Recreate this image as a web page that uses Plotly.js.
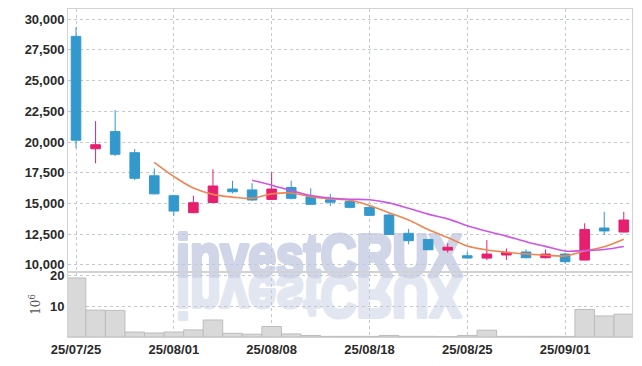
<!DOCTYPE html>
<html><head><meta charset="utf-8">
<script src="https://cdn.plot.ly/plotly-3.0.1.min.js"></script>
<style>html,body{margin:0;padding:0;background:#fff}#chart{width:642px;height:366px}</style>
</head><body><div id="chart"></div>
<script>
const dates = ['2025-07-25','2025-07-28','2025-07-29','2025-07-30','2025-07-31','2025-08-01',
  '2025-08-04','2025-08-05','2025-08-06','2025-08-07','2025-08-08','2025-08-11','2025-08-12',
  '2025-08-13','2025-08-14','2025-08-18','2025-08-19','2025-08-20','2025-08-21','2025-08-22',
  '2025-08-25','2025-08-26','2025-08-27','2025-08-28','2025-08-29','2025-09-01','2025-09-02',
  '2025-09-03','2025-09-04'];
const openP  = [28600,19450,20850,19130,17250,15630,14250,15080,16170,16100,15330,16300,15550,15300,15170,14680,14060,12570,12070,11200,10740,10550,10800,11050,10580,10880,10390,13000,12670];
const highP  = [29350,21700,22600,19430,17850,15700,15630,17780,16850,16650,17530,16850,16230,15770,15330,14790,14190,12920,12100,11750,11070,12020,11340,11260,11260,10990,13380,14320,14320];
const lowP   = [19500,18270,18860,16900,15750,14000,14190,15060,15820,15220,15280,15330,14870,14800,14600,13970,12430,11670,11200,10990,10500,10390,10390,10530,10530,10120,10380,12430,12650];
const closeP = [20150,19780,19000,17050,15780,14380,15060,16420,15950,15280,16170,15420,14930,15100,14680,14030,12480,11970,11230,11430,10560,10880,11020,10580,10880,10260,12880,12760,13650];
const ma5  = [null,null,null,null,18352,17198,16254,15738,15518,15418,15776,15848,15550,15380,15260,14832,14244,13652,12878,12228,11534,11214,11024,10894,10784,10724,11124,11472,12086];
const ma10 = [null,null,null,null,null,null,null,null,null,16885,16487,16051,15644,15449,15339,15304,15046,14601,14129,13744,13183,12729,12338,11886,11506,11129,11169,11248,11490];
const volume = [19.1,8.7,8.6,1.6,1.3,1.6,2.3,5.5,1.2,0.9,3.4,1.0,0.5,0.2,0.2,0.2,0.5,0.2,0.2,0.1,0.5,2.2,0.2,0.2,0.2,0.2,8.9,6.8,7.4];
const tickDates  = ['2025-07-25','2025-08-01','2025-08-08','2025-08-18','2025-08-25','2025-09-01'];
const tickLabels = ['25/07/25','25/08/01','25/08/08','25/08/18','25/08/25','25/09/01'];
const priceTicks = [10000,12500,15000,17500,20000,22500,25000,27500,30000];
const volTicks = [10,20];
const watermark = 'investCRUX';

const RED = '#e61f6f', BLUE = '#3399cc';
const FONT = "'Liberation Sans',Arial,sans-serif";
const GRID = '#c3c8d6';
const WM_COLOR = '#d0d6e8';
const tickFont = {family: FONT, size: 13, color: '#2a2a2a', weight: 'bold'};

const data = [
  {type:'bar', x:dates, y:volume, xaxis:'x2', yaxis:'y2',
   marker:{color:'#d9d9d9', line:{color:'#bdbdbd', width:1}}, hoverinfo:'skip'},
  {type:'candlestick', x:dates, open:openP, high:highP, low:lowP, close:closeP,
   xaxis:'x', yaxis:'y', whiskerwidth:0,
   increasing:{line:{color:RED, width:1}, fillcolor:RED},
   decreasing:{line:{color:BLUE, width:1}, fillcolor:BLUE}, hoverinfo:'skip'},
  {type:'scatter', mode:'lines', x:dates, y:ma5, xaxis:'x', yaxis:'y',
   line:{color:'#f08552', width:1.6, shape:'spline'}, hoverinfo:'skip'},
  {type:'scatter', mode:'lines', x:dates, y:ma10, xaxis:'x', yaxis:'y',
   line:{color:'#cc55e6', width:1.6, shape:'spline'}, hoverinfo:'skip'}
];

const xbase = {type:'category', range:[-0.41,28.42], tickvals:tickDates, ticktext:tickLabels,
  showgrid:true, gridcolor:GRID, griddash:'dot', gridwidth:1, zeroline:false,
  showline:true, mirror:true, linecolor:'#d2d2d2', linewidth:1, ticks:'', fixedrange:true};

const layout = {
  width:642, height:366, margin:{l:68, r:10, t:9, b:29},
  paper_bgcolor:'#ffffff', plot_bgcolor:'rgba(0,0,0,0)', showlegend:false, bargap:0,
  xaxis: Object.assign({}, xbase, {anchor:'y', showticklabels:false, rangeslider:{visible:false}}),
  xaxis2: Object.assign({}, xbase, {anchor:'y2', matches:'x', showticklabels:true, tickfont:tickFont}),
  yaxis: {domain:[0.198,1], range:[9414,30830], tickvals:priceTicks, tickformat:',',
    showgrid:true, gridcolor:GRID, griddash:'dot', zeroline:false, showline:true, mirror:true,
    linecolor:'#d2d2d2', ticks:'', tickfont:tickFont, fixedrange:true},
  yaxis2: {domain:[0,0.198], range:[0,21], tickvals:volTicks,
    showgrid:true, gridcolor:GRID, griddash:'dot', zeroline:false, showline:true, mirror:true,
    linecolor:'#d2d2d2', ticks:'', tickfont:tickFont, fixedrange:true,
    title:{text:'10<sup>6</sup>', font:{family:"'DejaVu Serif',serif", size:12, color:'#555'}, standoff:6}},
  annotations: [
    {text:watermark, xref:'paper', yref:'paper', x:0.445, y:0.25, xanchor:'center', yanchor:'middle',
     showarrow:false, font:{family:FONT, size:60, weight:'bold', color:WM_COLOR}},
    {text:watermark, xref:'paper', yref:'paper', x:0.445, y:0.25, xanchor:'center', yanchor:'middle',
     showarrow:false, font:{family:FONT, size:60, weight:'bold', color:WM_COLOR}, opacity:0.6}
  ]
};

const WM_CX = 319, WM_BASE = 276, WM_W = 286;
const gd = document.getElementById('chart');
Plotly.newPlot(gd, data, layout, {staticPlot:true, displayModeBar:false}).then(() => {
  const svg = gd.querySelector('.main-svg');
  const cart = svg.querySelector('.cartesianlayer');
  const wm = document.createElementNS('http://www.w3.org/2000/svg', 'g');
  svg.insertBefore(wm, cart);
  const anns = Array.from(gd.querySelectorAll('.infolayer .annotation'));
  anns.forEach(a => wm.appendChild(a));
  const svgRect = svg.getBoundingClientRect();
  anns.forEach((a, i) => {
    const t = a.querySelector('text');
    t.style.fontWeight = 'bold';
    t.style.stroke = WM_COLOR;
    t.style.strokeWidth = '4px';
    t.style.strokeLinejoin = 'round';
    const r = t.getBoundingClientRect();
    const left = r.left - svgRect.left, top = r.top - svgRect.top;
    const cx = left + r.width / 2;
    const base = top + r.height * (0.905 / 1.117);
    const s = WM_W / r.width;
    const ax = WM_CX - s * cx;
    if (i === 0) a.setAttribute('transform', 'translate(' + ax + ',' + (WM_BASE - base) + ') scale(' + s + ',1)');
    else a.setAttribute('transform', 'translate(' + ax + ',' + (WM_BASE + base) + ') scale(' + s + ',-1)');
  });
});
</script>
</body></html>
